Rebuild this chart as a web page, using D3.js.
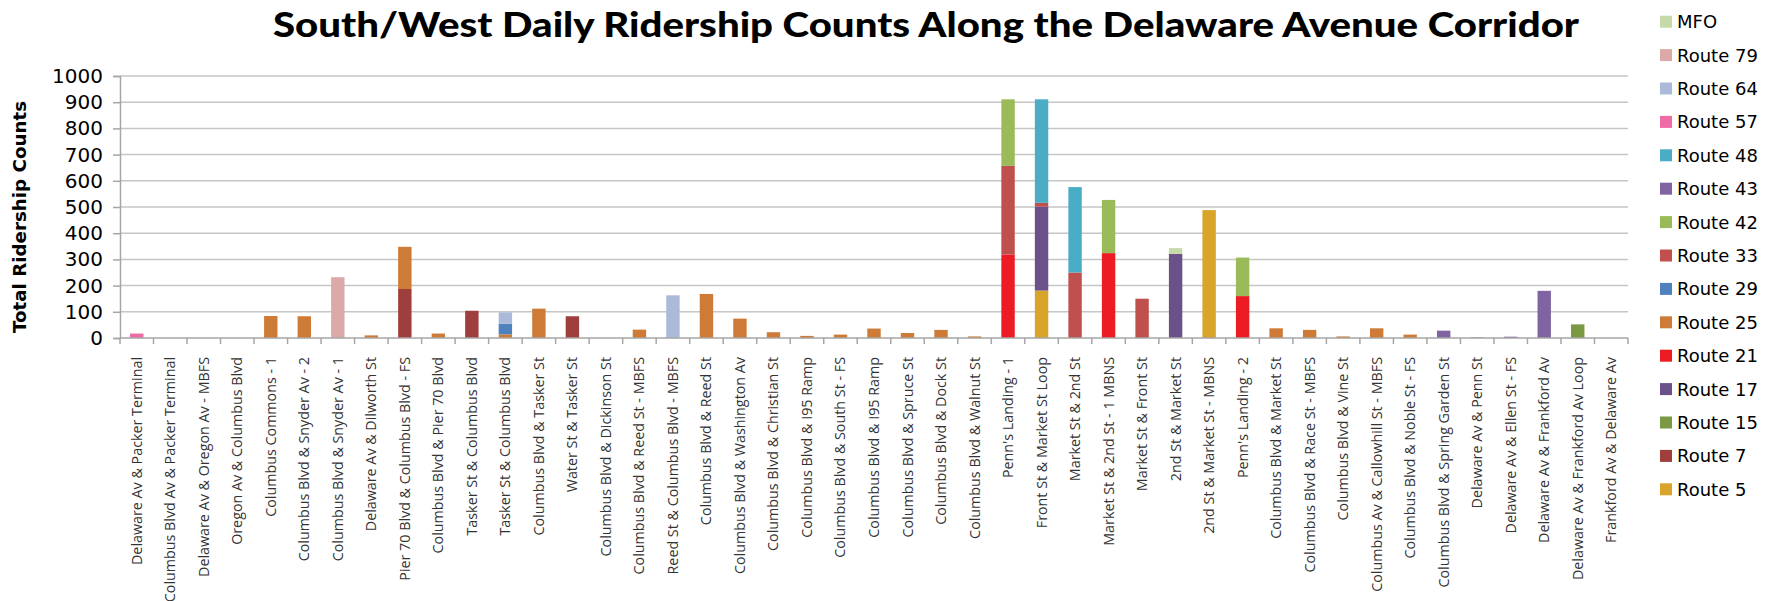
<!DOCTYPE html>
<html>
<head>
<meta charset="utf-8">
<script src="https://cdn.jsdelivr.net/npm/d3@7"></script>
<style>
	body { margin: 0; background: #fff; }
	svg { display: block; }
</style>
</head>
<body>
<div id="chart"></div>
<script>
// stops along the corridor, south to north
var stops = [
	"Delaware Av & Packer Terminal", "Columbus Blvd Av & Packer Terminal", "Delaware Av & Oregon Av - MBFS",
	"Oregon Av & Columbus Blvd", "Columbus Commons - 1", "Columbus Blvd & Snyder Av - 2",
	"Columbus Blvd & Snyder Av - 1", "Delaware Av & Dilworth St", "Pier 70 Blvd & Columbus Blvd - FS",
	"Columbus Blvd & Pier 70 Blvd", "Tasker St & Columbus Blvd", "Tasker St & Columbus Blvd",
	"Columbus Blvd & Tasker St", "Water St & Tasker St", "Columbus Blvd & Dickinson St",
	"Columbus Blvd & Reed St - MBFS", "Reed St & Columbus Blvd - MBFS", "Columbus Blvd & Reed St",
	"Columbus Blvd & Washington Av", "Columbus Blvd & Christian St", "Columbus Blvd & I95 Ramp",
	"Columbus Blvd & South St - FS", "Columbus Blvd & I95 Ramp", "Columbus Blvd & Spruce St",
	"Columbus Blvd & Dock St", "Columbus Blvd & Walnut St", "Penn's Landing - 1",
	"Front St & Market St Loop", "Market St & 2nd St", "Market St & 2nd St - 1 MBNS",
	"Market St & Front St", "2nd St & Market St", "2nd St & Market St - MBNS",
	"Penn's Landing - 2", "Columbus Blvd & Market St", "Columbus Blvd & Race St - MBFS",
	"Columbus Blvd & Vine St", "Columbus Av & Callowhill St - MBFS", "Columbus Blvd & Noble St - FS",
	"Columbus Blvd & Spring Garden St", "Delaware Av & Penn St", "Delaware Av & Ellen St - FS",
	"Delaware Av & Frankford Av", "Delaware Av & Frankford Av Loop", "Frankford Av & Delaware Av"
];

// one array per route, 45 values each (rows of 9)
var route5 = [
	0,0,0,0,0,0,0,0,0,
	0,0,0,0,0,0,0,0,0,
	0,0,0,0,0,0,0,0,0,
	181,0,0,0,0,488,0,0,0,
	0,0,0,0,0,0,0,0,0];
var route7 = [
	0,0,0,0,0,0,0,0,187,
	0,104,0,0,83,0,0,0,0,
	0,0,0,0,0,0,0,0,0,
	0,0,0,0,0,0,0,0,0,
	0,0,0,0,0,0,0,0,0];
var route15 = [
	0,0,0,0,0,0,0,0,0,
	0,0,0,0,0,0,0,0,0,
	0,0,0,0,0,0,0,0,0,
	0,0,0,0,0,0,0,0,0,
	0,0,0,0,0,0,0,52,0];
var route17 = [
	0,0,0,0,0,0,0,0,0,
	0,0,0,0,0,0,0,0,0,
	0,0,0,0,0,0,0,0,0,
	320,0,0,0,321,0,0,0,0,
	0,0,0,0,0,0,0,0,0];
var route21 = [
	0,0,0,0,0,0,0,0,0,
	0,0,0,0,0,0,0,0,0,
	0,0,0,0,0,0,0,0,318,
	0,0,324,0,0,0,160,0,0,
	0,0,0,0,0,0,0,0,0];
var route25 = [
	0,0,0,0,84,83,0,10,161,
	17,0,14,112,0,0,32,0,168,
	74,22,8,13,36,19,31,6,0,
	0,0,0,0,0,0,0,37,31,
	6,37,13,0,0,0,0,0,0];
var route29 = [
	0,0,0,0,0,0,0,0,0,
	0,0,40,0,0,0,0,0,0,
	0,0,0,0,0,0,0,0,0,
	0,0,0,0,0,0,0,0,0,
	0,0,0,0,0,0,0,0,0];
var route33 = [
	0,0,0,0,0,0,0,0,0,
	0,0,0,0,0,0,0,0,0,
	0,0,0,0,0,0,0,0,339,
	15,250,0,150,0,0,0,0,0,
	0,0,0,0,0,0,0,0,0];
var route42 = [
	0,0,0,0,0,0,0,0,0,
	0,0,0,0,0,0,0,0,0,
	0,0,0,0,0,0,0,0,254,
	0,0,203,0,0,0,147,0,0,
	0,0,0,0,0,0,0,0,0];
var route43 = [
	0,0,0,0,0,0,0,0,0,
	0,0,0,0,0,0,0,0,0,
	0,0,0,0,0,0,0,0,0,
	0,0,0,0,0,0,0,0,0,
	0,0,0,28,2,5,180,0,0];
var route48 = [
	0,0,0,0,0,0,0,0,0,
	0,0,0,0,0,0,0,0,0,
	0,0,0,0,0,0,0,0,0,
	395,326,0,0,0,0,0,0,0,
	0,0,0,0,0,0,0,0,0];
var route57 = [
	17,0,0,0,0,0,0,0,0,
	0,0,0,0,0,0,0,0,0,
	0,0,0,0,0,0,0,0,0,
	0,0,0,0,0,0,0,0,0,
	0,0,0,0,0,0,0,0,0];
var route64 = [
	0,0,0,0,0,0,0,0,0,
	0,0,44,0,0,0,0,163,0,
	0,0,0,0,0,0,0,0,0,
	0,0,0,0,0,0,0,0,0,
	0,0,0,0,0,0,0,0,0];
var route79 = [
	0,0,0,0,0,0,232,0,0,
	0,0,0,0,0,0,0,0,0,
	0,0,0,0,0,0,0,0,0,
	0,0,0,0,0,0,0,0,0,
	0,0,0,0,0,0,0,0,0];
var mfo = [
	0,0,0,0,0,0,0,0,0,
	0,0,0,0,0,0,0,0,0,
	0,0,0,0,0,0,0,0,0,
	0,0,0,0,22,0,0,0,0,
	0,0,0,0,0,0,0,0,0];

// stacking order, bottom first
var seriesNames = ["Route 5", "Route 7", "Route 15", "Route 17", "Route 21", "Route 25", "Route 29",
	"Route 33", "Route 42", "Route 43", "Route 48", "Route 57", "Route 64", "Route 79", "MFO"];
var seriesValues = [route5, route7, route15, route17, route21, route25, route29,
	route33, route42, route43, route48, route57, route64, route79, mfo];
var seriesColors = ["#d8a429", "#9e3f3d", "#7b9942", "#6b5189", "#ed1c24", "#cd7b37", "#4f81bd",
	"#c0504d", "#9bbb59", "#8064a2", "#4bacc6", "#f06aa6", "#abbad8", "#dba9a8", "#c6d9a8"];
var yTicks = [0, 100, 200, 300, 400, 500, 600, 700, 800, 900, 1000];

var W = 1779, H = 601;
var margin = {top: 76, left: 120, right: 151, bottom: 263};
var width = W - margin.left - margin.right,
	height = H - margin.top - margin.bottom;

var rows = stops.map(function(s, i) {
	var r = {stop: s, idx: i};
	seriesNames.forEach(function(n, k) { r[n] = seriesValues[k][i]; });
	return r;
});

var x = d3.scaleBand().domain(d3.range(stops.length)).range([0, width]).paddingInner(0.6).paddingOuter(0.3);
var y = d3.scaleLinear().domain([0, 1000]).range([height, 0]);
var color = d3.scaleOrdinal().domain(seriesNames).range(seriesColors);

var svg = d3.select("#chart").append("svg")
	.attr("width", W)
	.attr("height", H);

var g = svg.append("g")
	.attr("transform", "translate(" + margin.left + "," + margin.top + ")");

// gridlines
g.append("g")
	.selectAll("line")
	.data(yTicks.slice(1))
	.enter().append("line")
	.attr("x1", 0).attr("x2", width)
	.attr("y1", function(d) { return y(d); })
	.attr("y2", function(d) { return y(d); })
	.attr("stroke", "#c6c6c6")
	.attr("stroke-width", 1.5);

var yAxis = g.append("g")
	.call(d3.axisLeft(y).tickValues(yTicks).tickFormat(d3.format("d")).tickSize(7).tickPadding(10));
yAxis.select(".domain").attr("stroke", "#a6a6a6").attr("stroke-width", 1.5);
yAxis.selectAll(".tick line").attr("stroke", "#a6a6a6").attr("stroke-width", 1.5);
yAxis.selectAll(".tick text")
	.attr("font-family", "'DejaVu Sans', sans-serif")
	.attr("font-size", 20)
	.attr("fill", "#000");

var stack = d3.stack().keys(seriesNames);
var layers = stack(rows);

g.selectAll(".layer")
	.data(layers)
	.enter().append("g")
	.attr("class", "layer")
	.attr("fill", function(d) { return color(d.key); })
	.selectAll("rect")
	.data(function(d) { return d.filter(function(p) { return p[1] - p[0] > 0; }); })
	.enter().append("rect")
	.attr("x", function(d) { return x(d.data.idx); })
	.attr("y", function(d) { return y(d[1]); })
	.attr("width", x.bandwidth())
	.attr("height", function(d) { return y(d[0]) - y(d[1]); });

// x axis: line plus ticks between categories
var xa = g.append("g").attr("transform", "translate(0," + height + ")");
xa.append("line")
	.attr("x1", 0).attr("x2", width)
	.attr("stroke", "#a6a6a6").attr("stroke-width", 1.5);
xa.selectAll(".xt")
	.data(d3.range(stops.length + 1))
	.enter().append("line")
	.attr("class", "xt")
	.attr("x1", function(i) { return i * x.step(); })
	.attr("x2", function(i) { return i * x.step(); })
	.attr("y1", 0).attr("y2", 6)
	.attr("stroke", "#a6a6a6").attr("stroke-width", 1.5);

xa.selectAll(".xl")
	.data(stops)
	.enter().append("text")
	.attr("class", "xl")
	.attr("transform", function(d, i) {
		return "translate(" + (x(i) + x.bandwidth() / 2 + 5) + ",19) rotate(-90)";
	})
	.attr("text-anchor", "end")
	.attr("font-family", "'Open Sans', sans-serif")
	.attr("font-size", 14.3)
	.attr("fill", "#333")
	.text(function(d) { return d; });

// fit a text node to a target length by scaling the font size
function fit(sel, len) {
	var fs = +sel.attr("font-size");
	var w = sel.node().getComputedTextLength();
	sel.attr("font-size", fs * len / w);
}

var yTitle = svg.append("text")
	.attr("transform", "translate(26,217) rotate(-90)")
	.attr("text-anchor", "middle")
	.attr("font-family", "'DejaVu Sans', sans-serif")
	.attr("font-weight", "bold")
	.attr("font-size", 17)
	.text("Total Ridership Counts");
fit(yTitle, 232);

svg.append("text")
	.attr("x", 926)
	.attr("y", 37)
	.attr("text-anchor", "middle")
	.attr("font-family", "Lato, sans-serif")
	.attr("font-weight", 900)
	.attr("font-size", 35)
	.attr("textLength", 1306)
	.attr("lengthAdjust", "spacingAndGlyphs")
	.text("South/West Daily Ridership Counts Along the Delaware Avenue Corridor");

// legend, top entry is the last stacked series
var legend = svg.append("g")
	.selectAll("g")
	.data(seriesNames.slice().reverse())
	.enter().append("g")
	.attr("transform", function(d, i) { return "translate(1660," + (21.7 + i * 33.4) + ")"; });
legend.append("rect")
	.attr("y", -6).attr("width", 12).attr("height", 12)
	.attr("fill", function(d) { return color(d); });
legend.append("text")
	.attr("x", 17)
	.attr("dy", "0.36em")
	.attr("font-family", "'DejaVu Sans', sans-serif")
	.attr("font-size", 18)
	.text(function(d) { return d; });
</script>
</body>
</html>
